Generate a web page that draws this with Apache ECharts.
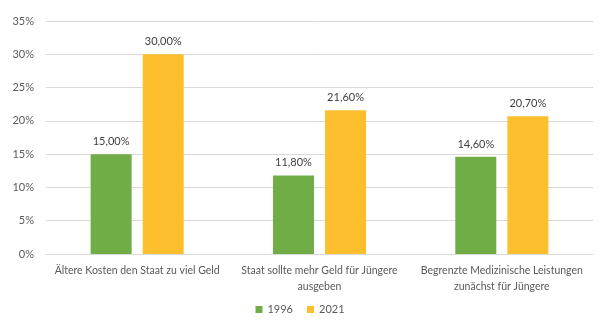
<!DOCTYPE html>
<html>
<head>
<meta charset="utf-8">
<script src="https://cdn.jsdelivr.net/npm/echarts@6/dist/echarts.min.js"></script>
<style>html,body{margin:0;padding:0;background:#fff}#c{width:600px;height:327px}</style>
</head>
<body>
<div id="c"></div>
<script>
const categories = ["Ältere Kosten den Staat zu viel Geld", "Staat sollte mehr Geld für Jüngere\nausgeben", "Begrenzte Medizinische Leistungen\nzunächst für Jüngere"];
const seriesNames = ["1996", "2021"];
const values1996 = [15.0, 11.8, 14.6];
const values2021 = [30.0, 21.6, 20.7];
const yTicks = [0, 5, 10, 15, 20, 25, 30, 35];

const font = "Lato, 'Open Sans', sans-serif";
const chart = echarts.init(document.getElementById('c'));
const fmt = v => v.toFixed(2).replace('.', ',') + '%';
chart.setOption({
  animation: false,
  textStyle: {fontFamily: font},
  grid: {left: 46, right: 7, top: 21, bottom: 73},
  legend: {
    bottom: 7, left: 'center', itemWidth: 7, itemHeight: 7, itemGap: 14,
    icon: 'rect',
    textStyle: {fontSize: 11, color: '#595959', fontFamily: font},
    data: seriesNames
  },
  xAxis: {
    type: 'category', data: categories,
    axisLine: {lineStyle: {color: '#d9d9d9'}},
    axisTick: {show: false},
    axisLabel: {color: '#595959', fontSize: 10.5, fontFamily: font, interval: 0, lineHeight: 16, margin: 9}
  },
  yAxis: {
    type: 'value', min: yTicks[0], max: yTicks[yTicks.length - 1], interval: 5,
    axisLine: {show: false}, axisTick: {show: false},
    splitLine: {lineStyle: {color: '#d9d9d9'}},
    axisLabel: {color: '#595959', fontSize: 11, fontFamily: font, formatter: v => v + '%', margin: 12}
  },
  series: [
    {name: seriesNames[0], type: 'bar', data: values1996, barWidth: 41, barGap: '27%',
     itemStyle: {color: '#70AD47'},
     label: {show: true, position: 'top', distance: 7, color: '#404040', fontSize: 11, fontFamily: font, formatter: p => fmt(p.value)}},
    {name: seriesNames[1], type: 'bar', data: values2021, barWidth: 41,
     itemStyle: {color: '#FDBF2D'},
     label: {show: true, position: 'top', distance: 7, color: '#404040', fontSize: 11, fontFamily: font, formatter: p => fmt(p.value)}}
  ]
});
</script>
</body>
</html>
